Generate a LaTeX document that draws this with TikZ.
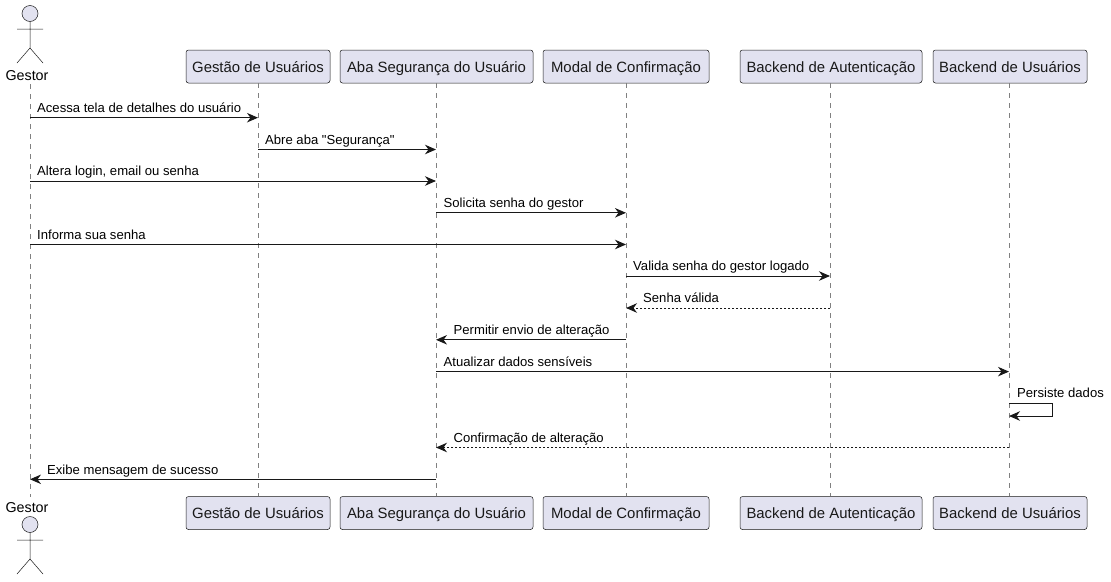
\documentclass[tikz,border=0pt]{standalone}
\usepackage{fontspec}
\setmainfont{Liberation Sans}
\newfontfamily\labelfont{Liberation Sans}
\usetikzlibrary{arrows.meta}
\definecolor{partfill}{HTML}{E2E2F0}
\definecolor{partline}{HTML}{181818}
\definecolor{lifegray}{HTML}{808080}
\tikzset{
  part/.style={draw=partline, line width=.5pt, fill=partfill, rounded corners=2.5pt,
    minimum height=33pt, inner sep=0pt, text height=11.5pt, text depth=0pt,
    font=\fontsize{14.9}{16}\selectfont, text=black!90},
  lifeline/.style={draw=lifegray, line width=.8pt, dash pattern=on 5pt off 5pt},
  actorhead/.style={draw=partline, line width=.5pt, fill=partfill},
  actorline/.style={draw=partline, line width=.5pt},
  actorname/.style={inner sep=0pt, anchor=base, font=\fontsize{14.3}{16}\selectfont},
  msg/.style={draw=partline, line width=1pt, -{Stealth[length=11pt,width=9.5pt,inset=3.5pt]}},
  reply/.style={msg, dash pattern=on 2pt off 2pt},
  msglabel/.style={inner sep=0pt, anchor=base west, font=\labelfont\fontsize{13.1}{15}\selectfont}
}

\begin{document}
\begin{tikzpicture}[x=1pt, y=-1pt]
  \useasboundingbox (0,0) rectangle (1111,581);

  % participants
  \foreach \name/\cx/\boxw/\txt in {
      gestao/258/144/{Gestão de Usuários},
      aba/436.5/193/{Aba Segurança do Usuário},
      modal/626/166/{Modal de Confirmação},
      auth/831/182/{Backend de Autenticação},
      users/1010/154/{Backend de Usuários}} {
    \node[part, minimum width=\boxw pt] (\name Top) at (\cx,66.5) {\txt};
    \node[part, minimum width=\boxw pt] (\name Bot) at (\cx,513) {\txt};
  }

  % actor, top and bottom
  \draw[actorhead] (30,13.5) circle (8);
  \draw[actorline] (17,29) -- (43,29) (30,21.5) -- (30,48)
                   (17,63) -- (30,48) -- (43,63);
  \node[actorname] (gestorTop) at (27,80) {Gestor};
  \draw[actorhead] (30,524.5) circle (8);
  \draw[actorline] (17,540) -- (43,540) (30,532.5) -- (30,559)
                   (17,574) -- (30,559) -- (43,574);
  \node[actorname] (gestorBot) at (27,512) {Gestor};

  \coordinate (gestorUp) at (30,84);
  \coordinate (gestorDown) at (30,497);
  \coordinate (gestaoLine) at (258,0);
  \coordinate (abaLine) at (436,0);
  \coordinate (modalLine) at (626,0);
  \coordinate (authLine) at (830,0);
  \coordinate (usersLine) at (1009,0);

  % lifelines
  \draw[lifeline] (gestorUp) -- (gestorDown);
  \foreach \name in {gestao,aba,modal,auth,users}
    \draw[lifeline] (\name Line |- \name Top.south) -- (\name Line |- \name Bot.north);

  % messages
  \foreach \from/\to/\y/\lx/\kind/\txt in {
      gestorUp/gestaoLine/117.7/37/msg/{Acessa tela de detalhes do usuário},
      gestaoLine/abaLine/149.5/265/msg/{Abre aba "Segurança"},
      gestorUp/abaLine/181/37/msg/{Altera login, email ou senha},
      abaLine/modalLine/212.8/443.5/msg/{Solicita senha do gestor},
      gestorUp/modalLine/244.5/37/msg/{Informa sua senha},
      modalLine/authLine/276/633/msg/{Valida senha do gestor logado},
      authLine/modalLine/308/643/reply/{Senha válida},
      modalLine/abaLine/339.8/453.5/msg/{Permitir envio de alteração},
      abaLine/usersLine/371.6/443.5/msg/{Atualizar dados sensíveis},
      usersLine/abaLine/447.5/453.5/reply/{Confirmação de alteração},
      abaLine/gestorUp/479.3/47/msg/{Exibe mensagem de sucesso}} {
    \draw[\kind] (\from |- 0,\y) -- (\to |- 0,\y);
    \node[msglabel] (label\y) at (\lx,\y-5.3) {\txt};
  }

  % self message
  \draw[msg] (usersLine |- 0,403.5) -- (1052,403.5) -- (1052,416) -- (usersLine |- 0,416);
  \node[msglabel] (labelSelf) at (1017,397.3) {Persiste dados};
\end{tikzpicture}
\end{document}
